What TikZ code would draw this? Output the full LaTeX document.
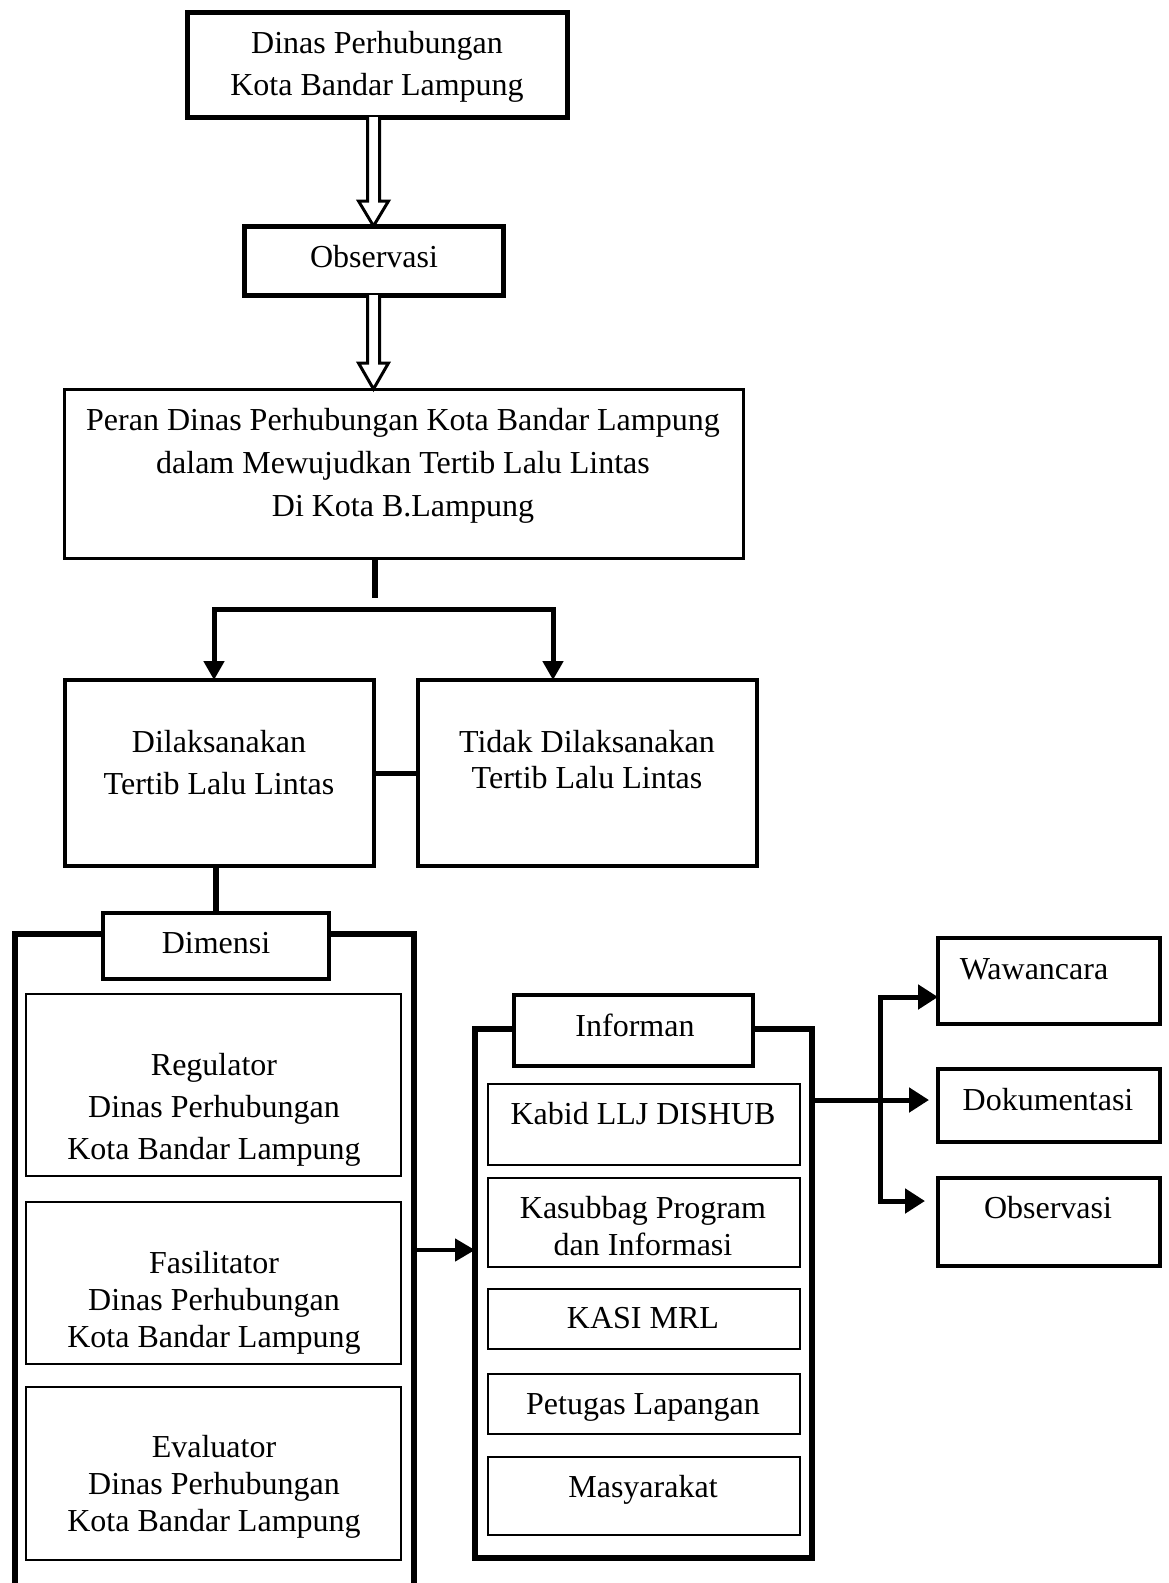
\documentclass[tikz,border=0pt]{standalone}
\usepackage{fontspec}
\setmainfont{Liberation Serif}
\usetikzlibrary{arrows.meta,calc}
\begin{document}
\begin{tikzpicture}[x=1pt,y=-1pt,
  every node/.style={inner sep=0pt, outer sep=0pt},
  box/.style={draw, rectangle, fill=white},
  txt/.style={align=center, font=\fontsize{32}{42}\selectfont},
  txtn/.style={align=center, font=\fontsize{32}{37}\selectfont},
  conn/.style={line width=5pt, line join=miter},
  hollow/.style={line width=3pt, fill=white, line join=miter},
]
\useasboundingbox (0,0) rectangle (1168,1583);
\clip (0,0) rectangle (1168,1583);
\newcommand\mybox[7][]{\node[box, line width=#7, minimum width={#5-#3}, minimum height={#6-#4}, #1] (#2) at ({(#3+#5)/2},{(#4+#6)/2}) {};}
% top part
\mybox{top}{187}{12}{567}{117}{5pt}
\mybox{obsa}{244}{226}{503}{295}{5pt}
\mybox{peran}{64}{389}{743}{558}{3pt}
\mybox{dil}{65}{680}{374}{866}{3.5pt}
\mybox{tidak}{418}{680}{757}{866}{3.5pt}
% dimensi group
\mybox{dimouter}{15}{934}{414}{1640}{6pt}
\mybox{dimlabel}{103}{913}{329}{979}{3.5pt}
\mybox{reg}{26}{994}{401}{1176}{2pt}
\mybox{fas}{26}{1202}{401}{1364}{2pt}
\mybox{eva}{26}{1387}{401}{1560}{2pt}
% informan group
\mybox{infouter}{475}{1029}{812}{1558}{6pt}
\mybox{inflabel}{514}{995}{753}{1066}{4pt}
\mybox{kabid}{488}{1084}{800}{1165}{2pt}
\mybox{kasub}{488}{1178}{800}{1267}{2pt}
\mybox{kasi}{488}{1289}{800}{1349}{2pt}
\mybox{petugas}{488}{1374}{800}{1434}{2pt}
\mybox{masy}{488}{1457}{800}{1535}{2pt}
% methods
\mybox{waw}{938}{938}{1160}{1024}{3.5pt}
\mybox{dok}{938}{1069}{1160}{1142}{3.5pt}
\mybox{obsb}{938}{1178}{1160}{1266}{3.5pt}
% texts
\node[txt] (t-top) at (377,67) {Dinas Perhubungan\\Kota Bandar Lampung};
\node[txt] (t-obsa) at (374,257) {Observasi};
\node[txt, font=\fontsize{32}{43}\selectfont] (t-peran) at (403,466) {Peran Dinas Perhubungan Kota Bandar Lampung\\dalam Mewujudkan Tertib Lalu Lintas\\Di Kota B.Lampung};
\node[txt] (t-dil) at (219,763) {Dilaksanakan\\Tertib Lalu Lintas};
\node[txt, font=\fontsize{32}{36}\selectfont] (t-tidak) at (587,760) {Tidak Dilaksanakan\\Tertib Lalu Lintas};
\node[txt] (t-dim) at (216,943) {Dimensi};
\node[txt] (t-reg) at (214,1110) {Regulator\\Dinas Perhubungan\\Kota Bandar Lampung};
\node[txtn] (t-fas) at (214,1303) {Fasilitator\\Dinas Perhubungan\\Kota Bandar Lampung};
\node[txtn] (t-eva) at (214,1487) {Evaluator\\Dinas Perhubungan\\Kota Bandar Lampung};
\node[txt] (t-inf) at (635,1025) {Informan};
\node[txt] (t-kabid) at (643,1114) {Kabid LLJ DISHUB};
\node[txtn] (t-kasub) at (643,1226) {Kasubbag Program\\dan Informasi};
\node[txt] (t-kasi) at (643,1318) {KASI MRL};
\node[txt] (t-pet) at (643,1407) {Petugas Lapangan};
\node[txt] (t-masy) at (643,1490) {Masyarakat};
\node[txt] (t-waw) at (1034,969) {Wawancara};
\node[txt] (t-dok) at (1048,1100) {Dokumentasi};
\node[txt] (t-obsb) at (1048,1208) {Observasi};
% hollow arrows
\draw[hollow] let \p1=(top.south), \p2=(obsa.north) in
  (\x2-6pt,\y1) -- (\x2-6pt,\y2+25pt) -- (\x2-15pt,\y2+25pt) -- (\x2,\y2)
  -- (\x2+15pt,\y2+25pt) -- (\x2+6pt,\y2+25pt) -- (\x2+6pt,\y1);
\draw[hollow] let \p1=(obsa.south), \p2=(peran.north) in
  (\x1-6pt,\y1) -- (\x1-6pt,\y2+26pt) -- (\x1-15pt,\y2+26pt) -- (\x1,\y2)
  -- (\x1+15pt,\y2+26pt) -- (\x1+6pt,\y2+26pt) -- (\x1+6pt,\y1);
% branch
\coordinate (stub) at (375,598);
\coordinate (barL) at (214,609);
\coordinate (barR) at (553,609);
\draw[line width=6pt] (stub |- peran.south) -- (stub);
\draw[conn, {Triangle[width=20pt,length=19pt]}-{Triangle[width=20pt,length=19pt]}]
  (barL |- dil.north) -- (barL) -- (barR) -- (barR |- tidak.north);
\draw[conn] (dil.east) -- (dil.east -| tidak.west);
\draw[line width=6pt] (dimlabel.north |- dil.south) -- (dimlabel.north);
% dimensi -> informan
\coordinate (ya) at (0,1250);
\draw[line width=4.5pt, -{Triangle[width=22pt,length=20pt]}] (dimouter.east |- ya) -- (infouter.west |- ya);
% informan -> methods
\coordinate (jn) at (880,1100);
\coordinate (jt) at (880,997);
\coordinate (jb) at (880,1201);
\draw[conn, shorten >=9pt, -{Triangle[width=24pt,length=20pt]}] (infouter.east |- jn) -- (dok.west |- jn);
\draw[conn, shorten >=13pt, {Triangle[width=24pt,length=20pt]}-{Triangle[width=24pt,length=20pt]}]
  (waw.west |- jt) -- (jt) -- (jb) -- (obsb.west |- jb);
\end{tikzpicture}
\end{document}
